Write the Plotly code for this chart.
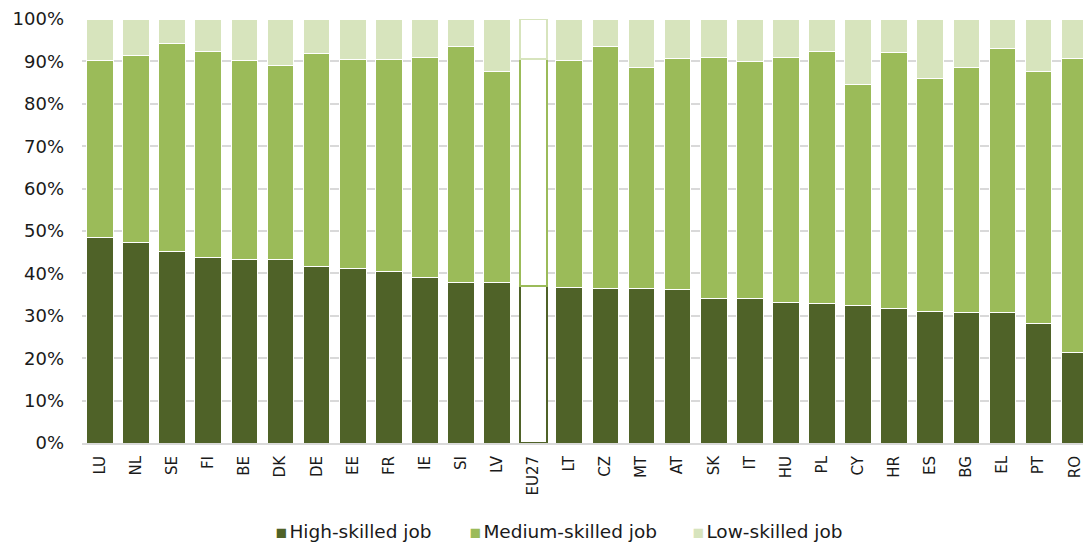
import plotly.graph_objects as go

# Share of employment by skill level of the job, by country (%)
countries = ["LU", "NL", "SE", "FI", "BE", "DK", "DE", "EE", "FR", "IE", "SI", "LV", "EU27",
             "LT", "CZ", "MT", "AT", "SK", "IT", "HU", "PL", "CY", "HR", "ES", "BG", "EL", "PT", "RO"]
high_skilled = [48.4, 47.3, 45.1, 43.8, 43.3, 43.2, 41.7, 41.2, 40.4, 39.1, 37.9, 37.9, 37.0,
                36.6, 36.5, 36.4, 36.3, 34.1, 34.1, 33.2, 33.0, 32.4, 31.8, 31.0, 30.7, 30.7, 28.3, 21.4]
medium_skilled = [41.7, 44.0, 49.1, 48.6, 46.9, 45.8, 50.2, 49.3, 50.1, 51.9, 55.6, 49.8, 53.6,
                  53.6, 57.0, 52.2, 54.3, 56.9, 55.8, 57.7, 59.3, 52.1, 60.3, 54.9, 57.8, 62.3, 59.4, 69.3]
low_skilled = [9.9, 8.7, 5.8, 7.6, 9.8, 11.0, 8.1, 9.5, 9.5, 9.0, 6.5, 12.3, 9.4,
               9.8, 6.5, 11.4, 9.4, 9.0, 10.1, 9.1, 7.7, 15.5, 7.9, 14.1, 11.5, 7.0, 12.3, 9.3]
y_ticks = [0, 10, 20, 30, 40, 50, 60, 70, 80, 90, 100]
y_tick_labels = ["0%", "10%", "20%", "30%", "40%", "50%", "60%", "70%", "80%", "90%", "100%"]

series = [
    ("High-skilled job", high_skilled, "#4F6228"),
    ("Medium-skilled job", medium_skilled, "#9BBB59"),
    ("Low-skilled job", low_skilled, "#D7E4BD"),
]

FONT = "DejaVu Sans, Verdana, sans-serif"
W, H = 1083, 544
ML, MR, MT, MB = 82, 0, 19, 101

fig = go.Figure()
for name, values, color in series:
    # the EU27 aggregate is drawn hollow, outlined in the series colour
    fills = ["#FFFFFF" if c == "EU27" else color for c in countries]
    outlines = [color if c == "EU27" else "#FFFFFF" for c in countries]
    widths = [2 if c == "EU27" else 1 for c in countries]
    fig.add_trace(go.Bar(
        name=name, x=countries, y=values,
        marker=dict(color=fills, line=dict(color=outlines, width=widths)),
        showlegend=False,
        hovertemplate="%{x}: %{y:.1f}%<extra>" + name + "</extra>",
    ))

# legend row drawn as text items beneath the axis
legend_items = [(273, series[0]), (467, series[1]), (690, series[2])]
plot_w = W - ML - MR
plot_h = H - MT - MB
for px, (name, _, color) in legend_items:
    fig.add_annotation(
        x=(px - ML) / plot_w, xref="paper", xanchor="left",
        y=(H - MB - 531) / plot_h, yref="paper", yanchor="middle",
        text=f"<span style='color:{color}'>▪</span>\u200a{name}",
        showarrow=False, font=dict(family=FONT, size=18.5, color="#1A1A1A"),
    )

fig.update_layout(
    width=W, height=H,
    margin=dict(l=ML, r=MR, t=MT, b=MB, pad=0),
    barmode="stack", bargap=0.26,
    plot_bgcolor="#FFFFFF", paper_bgcolor="#FFFFFF",
    font=dict(family=FONT, color="#1A1A1A"),
    showlegend=False,
)
fig.update_xaxes(
    type="category", range=[-0.5, 27.23],
    tickangle=-90, tickfont=dict(size=15, family=FONT, color="#1A1A1A"),
    showline=True, linecolor="#D9D9D9", linewidth=2,
    showgrid=False, ticks="", ticklabelstandoff=5,
)
fig.update_yaxes(
    range=[0, 100], tickvals=y_ticks, ticktext=y_tick_labels,
    tickfont=dict(size=18, family=FONT, color="#1A1A1A"),
    showgrid=True, gridcolor="#D9D9D9", gridwidth=1.5,
    zeroline=False, showline=False, ticks="", ticklabelstandoff=17,
)

fig.write_html("out.html")
